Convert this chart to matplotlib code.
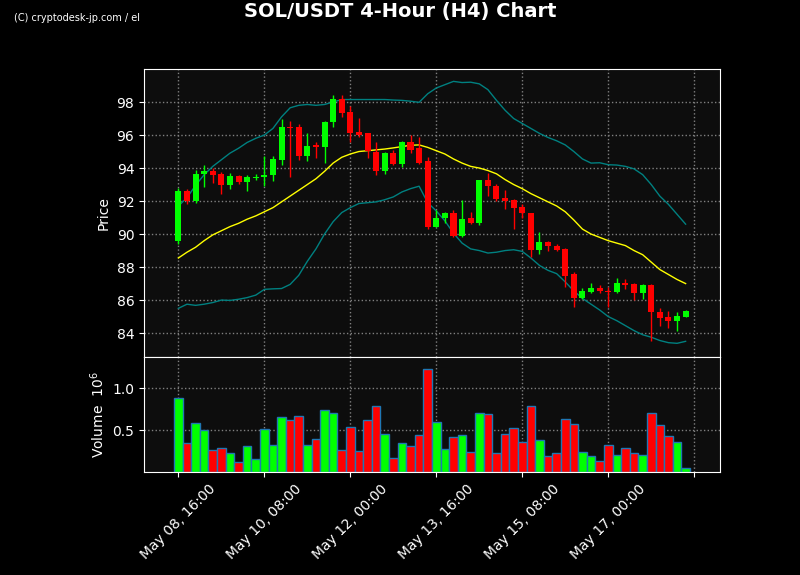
import numpy as np
import pandas as pd
import matplotlib
matplotlib.use("Agg")
import matplotlib.pyplot as plt
import matplotlib.ticker as ticker

#%% Data (4h candles starting May 08 16:00)
opens  = [89.6, 92.6, 92.0, 93.65, 93.8, 93.65, 93.0, 93.5, 93.15, 93.4,
          93.45, 93.55, 94.5, 96.5, 96.5, 94.75, 95.4, 95.3, 96.8, 98.2,
          97.4, 96.2, 96.1, 95.0, 93.85, 94.9, 94.25, 95.6, 95.2, 94.4,
          90.45, 90.95, 91.25, 89.9, 90.95, 90.65, 93.25, 92.9, 92.2, 92.05,
          91.65, 91.3, 89.05, 89.5, 89.3, 89.1, 87.55, 86.1, 86.5, 86.75,
          86.55, 86.5, 87.05, 86.95, 86.45, 86.9, 85.3, 84.95, 84.75, 85.0]
highs  = [92.8, 92.7, 93.9, 94.2, 94.0, 93.75, 93.7, 93.6, 93.55, 93.65,
          94.75, 94.7, 97.0, 96.85, 96.65, 96.15, 95.6, 96.85, 98.45, 98.4,
          97.75, 97.05, 96.15, 95.6, 95.0, 95.1, 95.65, 96.0, 95.85, 94.65,
          91.45, 91.35, 91.45, 92.05, 91.35, 93.3, 93.7, 93.05, 92.65, 92.1,
          91.8, 91.3, 90.1, 89.55, 89.4, 89.15, 87.7, 86.75, 87.05, 86.9,
          86.8, 87.35, 87.25, 87.05, 86.95, 87.0, 85.5, 85.35, 85.3, 85.4]
lows   = [89.4, 91.8, 91.9, 92.85, 93.1, 92.4, 92.7, 93.05, 92.6, 93.25,
          92.9, 93.2, 94.2, 93.45, 94.5, 94.4, 94.6, 94.3, 96.5, 97.1,
          95.6, 95.85, 94.6, 93.6, 93.65, 94.2, 94.05, 94.9, 94.25, 90.3,
          90.4, 90.65, 89.85, 89.85, 90.6, 90.55, 92.3, 92.0, 91.5, 90.3,
          90.95, 88.6, 88.8, 89.0, 88.95, 86.8, 85.6, 86.05, 86.4, 86.45,
          85.6, 86.45, 86.65, 86.0, 86.05, 83.55, 84.45, 84.3, 84.1, 85.0]
closes = [92.6, 92.0, 93.65, 93.8, 93.6, 93.0, 93.5, 93.15, 93.45, 93.45,
          93.6, 94.55, 96.5, 96.45, 94.75, 95.35, 95.3, 96.8, 98.2, 97.35,
          96.15, 96.0, 95.05, 93.85, 94.9, 94.25, 95.6, 95.1, 94.3, 90.45,
          91.0, 91.25, 89.9, 90.9, 90.65, 93.25, 92.9, 92.15, 92.0, 91.6,
          91.25, 89.05, 89.5, 89.25, 89.05, 87.45, 86.1, 86.55, 86.75, 86.55,
          86.5, 87.05, 86.9, 86.45, 86.9, 85.25, 84.9, 84.75, 85.05, 85.35]
volume = [0.884, 0.341, 0.581, 0.5, 0.267, 0.29, 0.232, 0.116, 0.314, 0.151,
          0.511, 0.325, 0.651, 0.616, 0.663, 0.325, 0.395, 0.744, 0.698, 0.267,
          0.535, 0.256, 0.616, 0.791, 0.453, 0.163, 0.349, 0.314, 0.442, 1.233,
          0.593, 0.279, 0.419, 0.442, 0.244, 0.698, 0.686, 0.221, 0.453, 0.523,
          0.36, 0.791, 0.384, 0.186, 0.221, 0.628, 0.57, 0.244, 0.186, 0.128,
          0.325, 0.198, 0.29, 0.221, 0.198, 0.698, 0.558, 0.43, 0.36, 0.047]

# Bollinger bands (20 SMA +/- 2 sd)
sma   = [88.55, 88.9, 89.2, 89.6, 89.95, 90.2, 90.45, 90.65, 90.9, 91.1,
         91.35, 91.6, 91.95, 92.3, 92.65, 93.0, 93.35, 93.8, 94.3, 94.65,
         94.85, 95.0, 95.05, 95.1, 95.15, 95.22, 95.3, 95.38, 95.4, 95.25,
         95.05, 94.85, 94.55, 94.3, 94.1, 94.0, 93.85, 93.65, 93.3, 93.0,
         92.75, 92.45, 92.2, 91.95, 91.7, 91.35, 90.85, 90.3, 90.0, 89.8,
         89.6, 89.45, 89.3, 89.0, 88.75, 88.3, 87.85, 87.55, 87.25, 87.0]
upper = [91.7, 92.2, 92.95, 93.6, 94.1, 94.5, 94.9, 95.2, 95.55, 95.8,
         96.0, 96.4, 97.1, 97.65, 97.8, 97.85, 97.8, 97.85, 98.0, 98.15,
         98.15, 98.15, 98.15, 98.15, 98.15, 98.12, 98.1, 98.05, 97.98, 98.5,
         98.85, 99.05, 99.25, 99.18, 99.2, 99.1, 98.75, 98.1, 97.5, 97.0,
         96.7, 96.4, 96.1, 95.85, 95.65, 95.4, 95.0, 94.55, 94.3, 94.32,
         94.2, 94.18, 94.1, 93.95, 93.6, 93.0, 92.3, 91.8, 91.2, 90.6]
lower = [85.5, 85.75, 85.68, 85.75, 85.85, 86.0, 85.98, 86.05, 86.15, 86.3,
         86.65, 86.68, 86.7, 86.95, 87.5, 88.35, 89.1, 90.0, 90.75, 91.3,
         91.6, 91.85, 91.9, 91.95, 92.08, 92.25, 92.55, 92.75, 92.9, 91.9,
         91.4, 90.8, 90.05, 89.45, 89.1, 89.0, 88.85, 88.9, 89.0, 89.05,
         88.95, 88.55, 88.1, 87.8, 87.6, 87.1, 86.55, 86.1, 85.75, 85.4,
         85.0, 84.75, 84.45, 84.15, 83.9, 83.75, 83.55, 83.42, 83.38, 83.5]

times = pd.date_range("2024-05-08 16:00", periods=len(closes), freq="4h")

df = pd.DataFrame({"Open": opens, "High": highs, "Low": lows, "Close": closes,
                   "Volume": volume, "SMA": sma, "Upper": upper, "Lower": lower},
                  index=times)

#%% Plot
UP = "#00ff00"
DOWN = "#ff0000"
BG = "#0d0d0d"

fig = plt.figure(figsize=(8, 5.75), dpi=100, facecolor="black")
ax = fig.add_axes([0.18, 0.3791, 0.72, 0.5009])
axv = fig.add_axes([0.18, 0.1791, 0.72, 0.2], sharex=ax)

x = np.arange(len(df))
colors = [UP if c >= o else DOWN for o, c in zip(df["Open"], df["Close"])]

# candles
ax.vlines(x, df["Low"], df["High"], colors=colors, linewidth=1, zorder=3)
body_bottom = np.minimum(df["Open"], df["Close"])
body_height = np.abs(df["Close"] - df["Open"])
body_height = np.maximum(body_height, 0.04)
ax.bar(x, body_height, bottom=body_bottom, width=0.7, color=colors, zorder=4)

# bands
ax.plot(x, df["SMA"], color="yellow", linewidth=1, zorder=2)
ax.plot(x, df["Upper"], color="teal", linewidth=1, zorder=2)
ax.plot(x, df["Lower"], color="teal", linewidth=1, zorder=2)

# volume
axv.bar(x, df["Volume"], width=1.0, color=colors, edgecolor="#1f77b4", linewidth=1)

for a in (ax, axv):
    a.set_facecolor(BG)
    for s in a.spines.values():
        s.set_color("white")
    a.tick_params(colors="white", labelsize=10)
    a.grid(True, color="gray", linestyle=":", linewidth=1)
    a.set_axisbelow(True)

ax.set_xlim(-4, 63)
ax.set_ylim(82.55, 100.0)
ax.set_yticks(np.arange(84, 99, 2))
ax.set_ylabel("Price", color="white", fontsize=10)
ax.tick_params(axis="x", labelbottom=False, length=0)

axv.set_ylim(0, 1.37)
axv.set_yticks([0.5, 1.0])
axv.set_ylabel("Volume  $10^{6}$", color="white", fontsize=10)

def fmt_date(val, pos):
    i = int(round(val))
    if 0 <= i < len(df):
        return df.index[i].strftime("%b %d, %H:%M")
    return ""

axv.xaxis.set_major_locator(ticker.MultipleLocator(10))
axv.xaxis.set_major_formatter(ticker.FuncFormatter(fmt_date))
plt.setp(axv.get_xticklabels(), rotation=45)

fig.suptitle("SOL/USDT 4-Hour (H4) Chart", color="white", fontsize=14,
             fontweight="bold", y=0.997)
fig.text(0.018, 0.963, "(C) cryptodesk-jp.com / el", color="white", fontsize=7,
         family="Liberation Sans Narrow")

plt.savefig("out.png", facecolor="black")
